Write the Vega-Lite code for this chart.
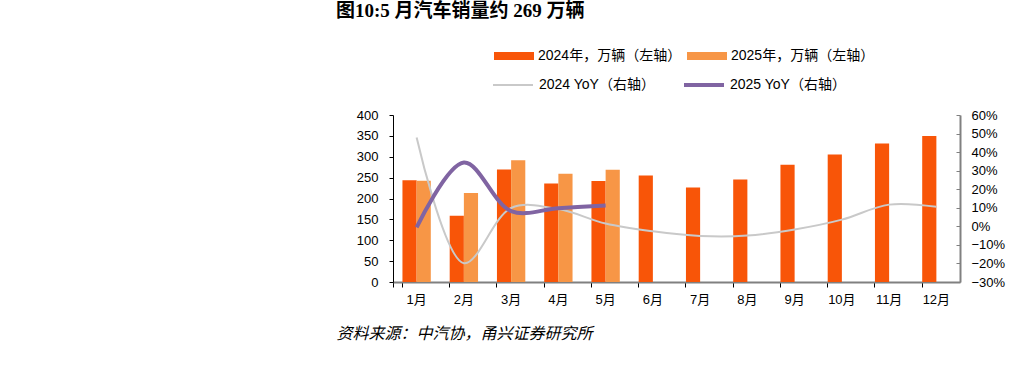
{
  "$schema": "https://vega.github.io/schema/vega-lite/v6.json",
  "width": 567,
  "height": 167,
  "autosize": {"type": "none"},
  "padding": {"left": 393, "top": 115, "right": 57, "bottom": 108},
  "background": "white",
  "config": {
    "view": {"stroke": null},
    "font": "Liberation Sans, Noto Sans CJK SC",
    "axis": {"grid": false, "labelColor": "#000", "labelFont": "Liberation Sans, Noto Sans CJK SC", "labelFontSize": 13}
  },
  "title": {
    "text": "图10:5 月汽车销量约 269 万辆",
    "anchor": "start",
    "frame": "group",
    "dx": -57,
    "font": "Liberation Serif, Noto Sans CJK SC",
    "fontSize": 19,
    "fontWeight": "bold",
    "color": "#000",
    "offset": 15
  },
  "datasets": {
    "bars": [
      {"month": "1月", "series": "2024年，万辆（左轴）", "sales": 243.9},
      {"month": "2月", "series": "2024年，万辆（左轴）", "sales": 158.4},
      {"month": "3月", "series": "2024年，万辆（左轴）", "sales": 269.4},
      {"month": "4月", "series": "2024年，万辆（左轴）", "sales": 235.9},
      {"month": "5月", "series": "2024年，万辆（左轴）", "sales": 241.7},
      {"month": "6月", "series": "2024年，万辆（左轴）", "sales": 255.2},
      {"month": "7月", "series": "2024年，万辆（左轴）", "sales": 226.2},
      {"month": "8月", "series": "2024年，万辆（左轴）", "sales": 245.3},
      {"month": "9月", "series": "2024年，万辆（左轴）", "sales": 280.9},
      {"month": "10月", "series": "2024年，万辆（左轴）", "sales": 305.3},
      {"month": "11月", "series": "2024年，万辆（左轴）", "sales": 331.6},
      {"month": "12月", "series": "2024年，万辆（左轴）", "sales": 349.9},
      {"month": "1月", "series": "2025年，万辆（左轴）", "sales": 242.3},
      {"month": "2月", "series": "2025年，万辆（左轴）", "sales": 212.9},
      {"month": "3月", "series": "2025年，万辆（左轴）", "sales": 291.5},
      {"month": "4月", "series": "2025年，万辆（左轴）", "sales": 259.0},
      {"month": "5月", "series": "2025年，万辆（左轴）", "sales": 268.6}
    ],
    "yoy": [
      {"month": "1月", "series": "2024 YoY（右轴）", "yoy": 0.479},
      {"month": "2月", "series": "2024 YoY（右轴）", "yoy": -0.199},
      {"month": "3月", "series": "2024 YoY（右轴）", "yoy": 0.099},
      {"month": "4月", "series": "2024 YoY（右轴）", "yoy": 0.093},
      {"month": "5月", "series": "2024 YoY（右轴）", "yoy": 0.015},
      {"month": "6月", "series": "2024 YoY（右轴）", "yoy": -0.027},
      {"month": "7月", "series": "2024 YoY（右轴）", "yoy": -0.052},
      {"month": "8月", "series": "2024 YoY（右轴）", "yoy": -0.050},
      {"month": "9月", "series": "2024 YoY（右轴）", "yoy": -0.017},
      {"month": "10月", "series": "2024 YoY（右轴）", "yoy": 0.036},
      {"month": "11月", "series": "2024 YoY（右轴）", "yoy": 0.117},
      {"month": "12月", "series": "2024 YoY（右轴）", "yoy": 0.105},
      {"month": "1月", "series": "2025 YoY（右轴）", "yoy": -0.006},
      {"month": "2月", "series": "2025 YoY（右轴）", "yoy": 0.344},
      {"month": "3月", "series": "2025 YoY（右轴）", "yoy": 0.082},
      {"month": "4月", "series": "2025 YoY（右轴）", "yoy": 0.098},
      {"month": "5月", "series": "2025 YoY（右轴）", "yoy": 0.112}
    ]
  },
  "layer": [
    {
      "data": {"name": "bars"},
      "mark": {"type": "bar"},
      "encoding": {
        "x": {
          "field": "month",
          "type": "ordinal",
          "sort": ["1月","2月","3月","4月","5月","6月","7月","8月","9月","10月","11月","12月"],
          "scale": {"paddingInner": 0.4, "paddingOuter": 0.2},
          "axis": {
            "title": "资料来源：中汽协，甬兴证券研究所",
            "titleAnchor": "start",
            "titleAlign": "left",
            "titleBaseline": "middle",
            "titleX": -57,
            "titleY": 51,
            "titleFont": "Noto Sans CJK SC",
            "titleFontStyle": "italic",
            "titleFontWeight": "normal",
            "titleFontSize": 16,
            "titleColor": "#000",
            "labelAngle": 0,
            "bandPosition": 0,
            "tickExtra": true,
            "domainColor": "#808080",
            "domainWidth": 2,
            "tickColor": "#000",
            "tickSize": 5,
            "labelPadding": 6
          }
        },
        "xOffset": {"field": "series", "type": "nominal", "scale": {"domain": ["2024年，万辆（左轴）", "2025年，万辆（左轴）"], "paddingInner": 0, "paddingOuter": 0}},
        "y": {
          "field": "sales",
          "type": "quantitative",
          "scale": {"domain": [0, 400], "nice": false},
          "axis": {
            "title": null,
            "values": [0, 50, 100, 150, 200, 250, 300, 350, 400],
            "domainColor": "#000",
            "domainWidth": 1,
            "tickColor": "#000",
            "tickSize": 4,
            "labelPadding": 11
          }
        },
        "fill": {
          "field": "series",
          "type": "nominal",
          "scale": {"domain": ["2024年，万辆（左轴）", "2025年，万辆（左轴）"], "range": ["#F85508", "#F79646"]},
          "legend": {
            "orient": "none",
            "legendX": 101,
            "legendY": -79,
            "direction": "horizontal",
            "columns": 2,
            "title": null,
            "symbolType": "M-1,-0.2H1V0.2H-1Z",
            "symbolSize": 1600,
            "symbolStrokeWidth": 0,
            "labelFontSize": 14,
            "labelFont": "Liberation Sans, Noto Sans CJK SC",
            "labelColor": "#000",
            "columnPadding": 5,
            "padding": 0,
            "labelLimit": 300
          }
        }
      }
    },
    {
      "data": {"name": "yoy"},
      "mark": {"type": "line", "interpolate": "catmull-rom"},
      "encoding": {
        "x": {"field": "month", "type": "ordinal", "sort": ["1月","2月","3月","4月","5月","6月","7月","8月","9月","10月","11月","12月"]},
        "y": {
          "field": "yoy",
          "type": "quantitative",
          "scale": {"domain": [-0.3, 0.6], "nice": false},
          "axis": {
            "orient": "right",
            "title": null,
            "format": ".0%",
            "values": [-0.3, -0.2, -0.1, 0, 0.1, 0.2, 0.3, 0.4, 0.5, 0.6],
            "domainColor": "#808080",
            "domainWidth": 2,
            "tickColor": "#808080",
            "tickSize": -4,
            "labelPadding": 15
          }
        },
        "stroke": {
          "field": "series",
          "type": "nominal",
          "scale": {"domain": ["2024 YoY（右轴）", "2025 YoY（右轴）"], "range": ["#C9C9C9", "#8064A2"]},
          "legend": {
            "orient": "none",
            "legendX": 98,
            "legendY": -52,
            "direction": "horizontal",
            "columns": 2,
            "title": null,
            "symbolType": "stroke",
            "symbolSize": 1600,
            "symbolStrokeWidth": 3,
            "labelFontSize": 14,
            "labelFont": "Liberation Sans, Noto Sans CJK SC",
            "labelColor": "#000",
            "columnPadding": 20,
            "padding": 0,
            "labelLimit": 300
          }
        },
        "strokeWidth": {
          "field": "series",
          "type": "nominal",
          "scale": {"domain": ["2024 YoY（右轴）", "2025 YoY（右轴）"], "range": [2, 4]},
          "legend": null
        }
      }
    }
  ],
  "resolve": {"scale": {"y": "independent"}}
}
